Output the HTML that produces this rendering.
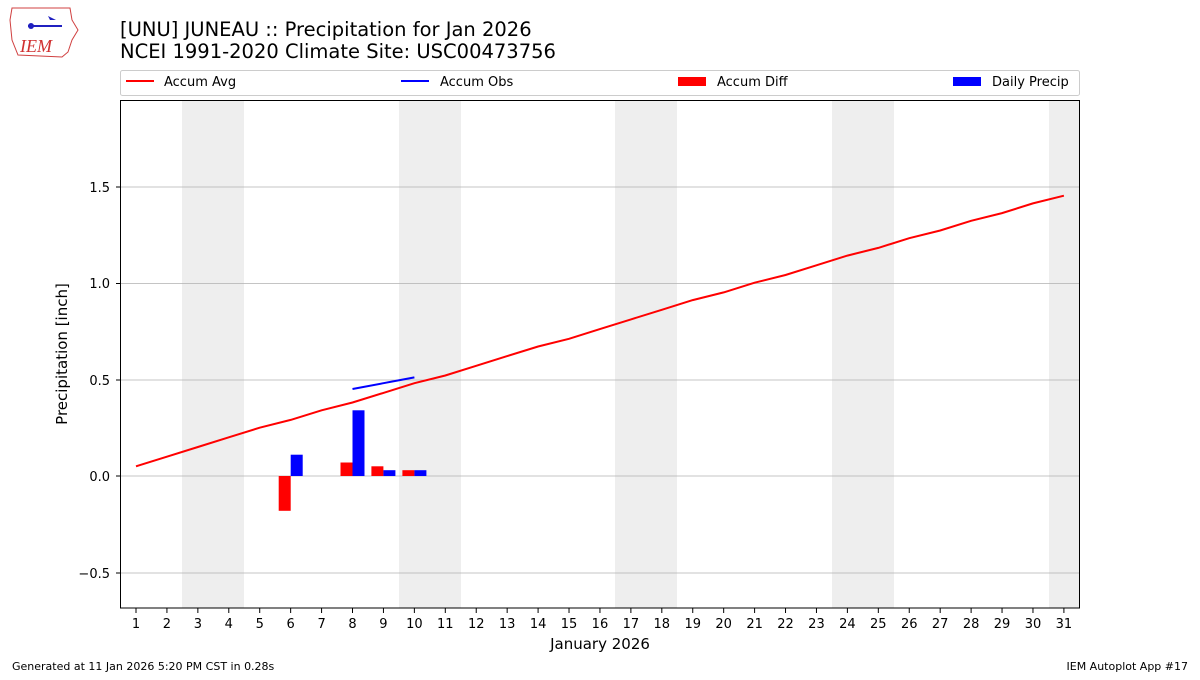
<!DOCTYPE html>
<html><head><meta charset="utf-8"><style>
body{margin:0;background:#fff;width:1200px;height:675px;overflow:hidden}
svg{font-family:"DejaVu Sans","Liberation Sans",sans-serif}
</style></head><body>
<svg width="1200" height="675" viewBox="0 0 1200 675">
<rect width="1200" height="675" fill="#fff"/>
<g>
<path d="M12,8 L70,8 L72,20 L78,30 L72,40 L68,52 L62,57 L18,55 L12,40 L10,20 Z" fill="#fff" stroke="#d04040" stroke-width="1"/>
<line x1="28" y1="26" x2="62" y2="26" stroke="#2020c0" stroke-width="2"/>
<circle cx="31" cy="26" r="3" fill="#2020c0"/>
<path d="M48,16 l8,4 l-6,0 z" fill="#2020c0"/>
<text x="20" y="52" font-family="Liberation Serif,serif" font-style="italic" font-size="18" fill="#d03030">IEM</text>
</g>
<text x="120" y="36" font-size="19.5" fill="#000">[UNU] JUNEAU :: Precipitation for Jan 2026</text>
<text x="120" y="58" font-size="19.5" fill="#000">NCEI 1991-2020 Climate Site: USC00473756</text>
<rect x="120.5" y="70.5" width="959" height="25" fill="#fff" stroke="#ccc" rx="2"/>
<line x1="126" y1="81" x2="154" y2="81" stroke="#f00" stroke-width="2"/>
<text x="164" y="86" font-size="13">Accum Avg</text>
<line x1="401" y1="81" x2="429" y2="81" stroke="#00f" stroke-width="2"/>
<text x="440" y="86" font-size="13">Accum Obs</text>
<rect x="678" y="77" width="28" height="9" fill="#f00"/>
<text x="717" y="86" font-size="13">Accum Diff</text>
<rect x="953" y="77" width="28" height="9" fill="#00f"/>
<text x="992" y="86" font-size="13">Daily Precip</text>
<g fill="#eeeeee">
<rect x="182" y="100" width="62" height="508"/>
<rect x="399" y="100" width="62" height="508"/>
<rect x="615" y="100" width="62" height="508"/>
<rect x="832" y="100" width="62" height="508"/>
<rect x="1049" y="100" width="31" height="508"/>
</g>
<g stroke="#b0b0b0" stroke-width="0.8">
<line x1="121" y1="187" x2="1080" y2="187"/>
<line x1="121" y1="283.5" x2="1080" y2="283.5"/>
<line x1="121" y1="380" x2="1080" y2="380"/>
<line x1="121" y1="476" x2="1080" y2="476"/>
<line x1="121" y1="573" x2="1080" y2="573"/>
</g>
<polyline fill="none" stroke="#f00" stroke-width="2" points="136,466.3 166.9,456.7 197.9,447 228.8,437.3 259.7,427.7 290.7,419.9 321.6,410.3 352.5,402.5 383.4,392.9 414.4,383.2 445.3,375.5 476.2,365.8 507.2,356.1 538.1,346.5 569,338.8 599.9,329.1 630.9,319.4 661.8,309.8 692.7,300.1 723.7,292.4 754.6,282.7 785.5,275 816.4,265.3 847.4,255.6 878.3,247.9 909.2,238.2 940.2,230.5 971.1,220.8 1002,213.1 1032.9,203.4 1063.9,195.7"/>
<polyline fill="none" stroke="#00f" stroke-width="2" points="352.5,389 383.4,383.2 414.4,377.4"/>
<g fill="#f00">
<rect x="278.7" y="476" width="12" height="34.8"/>
<rect x="340.5" y="462.5" width="12" height="13.5"/>
<rect x="371.4" y="466.3" width="12" height="9.7"/>
<rect x="402.4" y="470.2" width="12" height="5.8"/>
</g>
<g fill="#00f">
<rect x="290.7" y="454.7" width="12" height="21.3"/>
<rect x="352.5" y="410.3" width="12" height="65.7"/>
<rect x="383.4" y="470.2" width="12" height="5.8"/>
<rect x="414.4" y="470.2" width="12" height="5.8"/>
</g>
<rect x="120.5" y="100.5" width="959" height="507.5" fill="none" stroke="#000" stroke-width="1"/>
<g font-size="13" text-anchor="end" fill="#000">
<text x="110" y="192">1.5</text>
<text x="110" y="288">1.0</text>
<text x="110" y="385">0.5</text>
<text x="110" y="481">0.0</text>
<text x="110" y="578">−0.5</text>
</g>
<g stroke="#000">
<line x1="116" y1="187" x2="121" y2="187"/><line x1="116" y1="283.5" x2="121" y2="283.5"/>
<line x1="116" y1="380" x2="121" y2="380"/><line x1="116" y1="476" x2="121" y2="476"/>
<line x1="116" y1="573" x2="121" y2="573"/>
</g>
<text transform="translate(67,354) rotate(-90)" font-size="15" text-anchor="middle">Precipitation [inch]</text>
<g id="xt" font-size="13" text-anchor="middle"></g>
<text x="600" y="649" font-size="15" text-anchor="middle">January 2026</text>
<text x="12" y="670" font-size="11">Generated at 11 Jan 2026 5:20 PM CST in 0.28s</text>
<text x="1188" y="670" font-size="11" text-anchor="end">IEM Autoplot App #17</text>
</svg>
<script>
var g=document.getElementById('xt'),s='';
for(var d=1;d<=31;d++){var x=136+30.93*(d-1);
s+='<line x1="'+x+'" y1="608" x2="'+x+'" y2="613" stroke="#000"/><text x="'+x+'" y="628">'+d+'</text>';}
g.innerHTML=s;
</script>
</body></html>
